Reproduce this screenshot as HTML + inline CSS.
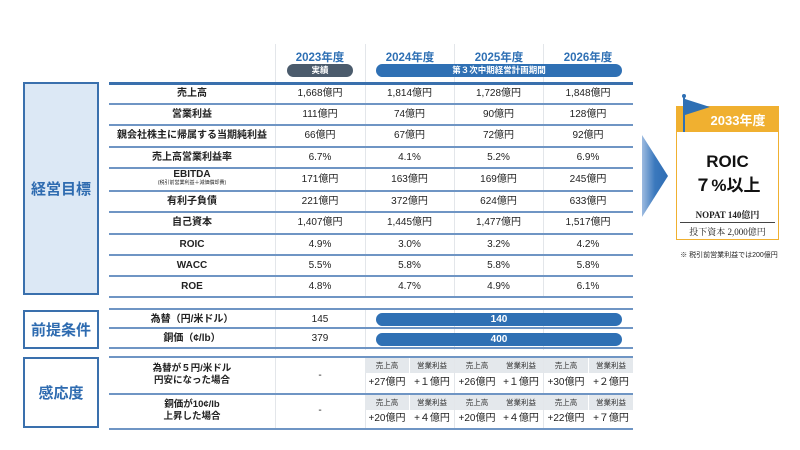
<!DOCTYPE html>
<html><head><meta charset="utf-8"><style>
*{margin:0;padding:0;box-sizing:border-box}
body{width:800px;height:450px;background:#fff;position:relative;overflow:hidden;font-family:"Liberation Sans","Noto Sans CJK JP",sans-serif;color:#222}
.a{position:absolute}
.t{position:absolute;text-align:center;font-size:10px;line-height:12px;white-space:nowrap;transform:translateY(1px)}
.b{font-weight:bold}
.hl{position:absolute;height:2px;background:#6f95c4}
.vl{position:absolute;width:1px;background:#e3e6ea}
.lab{position:absolute;left:23px;width:76px;border:2px solid #3a70ad;color:#2e6bb0;font-weight:bold;font-size:15px;display:flex;align-items:center;justify-content:center}
.yr{position:absolute;top:49px;font-size:11.5px;font-weight:bold;color:#2f70b4;text-align:center;width:90px}
.gh{position:absolute;background:#e4e8ec;height:15px;font-size:7.5px;line-height:15px;text-align:center;color:#333}
</style></head><body>
<div class="lab" style="top:82px;height:213px;background:#dce8f5">経営目標</div>
<div class="lab" style="top:310px;height:39px">前提条件</div>
<div class="lab" style="top:357px;height:71px">感応度</div>
<div class="vl" style="left:275px;top:44px;height:385px"></div>
<div class="vl" style="left:365px;top:44px;height:385px"></div>
<div class="vl" style="left:454px;top:44px;height:385px"></div>
<div class="vl" style="left:543px;top:44px;height:385px"></div>
<div class="yr" style="left:275px">2023年度</div>
<div class="yr" style="left:365px">2024年度</div>
<div class="yr" style="left:454px">2025年度</div>
<div class="yr" style="left:543px">2026年度</div>
<div class="a" style="left:287px;top:64px;width:66px;height:13px;border-radius:7px;background:#4b5b6c;color:#fff;font-size:8.5px;line-height:13px;text-align:center;font-weight:bold">実績</div>
<div class="a" style="left:376px;top:64px;width:246px;height:13px;border-radius:7px;background:#2f70b4;color:#fff;font-size:8.5px;line-height:13px;text-align:center;font-weight:bold">第３次中期経営計画期間</div>
<div class="hl" style="left:109px;width:524px;top:82px;height:3px;background:#3a70ad"></div>
<div class="hl" style="left:109px;width:524px;top:103px"></div>
<div class="hl" style="left:109px;width:524px;top:124px"></div>
<div class="hl" style="left:109px;width:524px;top:146px"></div>
<div class="hl" style="left:109px;width:524px;top:167px"></div>
<div class="hl" style="left:109px;width:524px;top:190px"></div>
<div class="hl" style="left:109px;width:524px;top:211px"></div>
<div class="hl" style="left:109px;width:524px;top:233px"></div>
<div class="hl" style="left:109px;width:524px;top:254px"></div>
<div class="hl" style="left:109px;width:524px;top:275px"></div>
<div class="hl" style="left:109px;width:524px;top:296px"></div>
<div class="t b" style="left:109px;width:166px;top:87px">売上高</div>
<div class="t b" style="left:109px;width:166px;top:108px">営業利益</div>
<div class="t b" style="left:109px;width:166px;top:129px">親会社株主に帰属する当期純利益</div>
<div class="t b" style="left:109px;width:166px;top:151px">売上高営業利益率</div>
<div class="t b" style="left:109px;width:166px;top:168px">EBITDA</div>
<div class="t" style="left:109px;width:166px;top:179px;font-size:5px;line-height:7px">(税引前営業利益＋減価償却費)</div>
<div class="t b" style="left:109px;width:166px;top:195px">有利子負債</div>
<div class="t b" style="left:109px;width:166px;top:216px">自己資本</div>
<div class="t b" style="left:109px;width:166px;top:238px">ROIC</div>
<div class="t b" style="left:109px;width:166px;top:259px">WACC</div>
<div class="t b" style="left:109px;width:166px;top:280px">ROE</div>

<div class="t" style="left:275px;width:90px;top:87px">1,668億円</div>
<div class="t" style="left:275px;width:90px;top:108px">111億円</div>
<div class="t" style="left:275px;width:90px;top:129px">66億円</div>
<div class="t" style="left:275px;width:90px;top:151px">6.7%</div>
<div class="t" style="left:275px;width:90px;top:173px">171億円</div>
<div class="t" style="left:275px;width:90px;top:195px">221億円</div>
<div class="t" style="left:275px;width:90px;top:216px">1,407億円</div>
<div class="t" style="left:275px;width:90px;top:238px">4.9%</div>
<div class="t" style="left:275px;width:90px;top:259px">5.5%</div>
<div class="t" style="left:275px;width:90px;top:280px">4.8%</div>

<div class="t" style="left:365px;width:89px;top:87px">1,814億円</div>
<div class="t" style="left:365px;width:89px;top:108px">74億円</div>
<div class="t" style="left:365px;width:89px;top:129px">67億円</div>
<div class="t" style="left:365px;width:89px;top:151px">4.1%</div>
<div class="t" style="left:365px;width:89px;top:173px">163億円</div>
<div class="t" style="left:365px;width:89px;top:195px">372億円</div>
<div class="t" style="left:365px;width:89px;top:216px">1,445億円</div>
<div class="t" style="left:365px;width:89px;top:238px">3.0%</div>
<div class="t" style="left:365px;width:89px;top:259px">5.8%</div>
<div class="t" style="left:365px;width:89px;top:280px">4.7%</div>

<div class="t" style="left:454px;width:89px;top:87px">1,728億円</div>
<div class="t" style="left:454px;width:89px;top:108px">90億円</div>
<div class="t" style="left:454px;width:89px;top:129px">72億円</div>
<div class="t" style="left:454px;width:89px;top:151px">5.2%</div>
<div class="t" style="left:454px;width:89px;top:173px">169億円</div>
<div class="t" style="left:454px;width:89px;top:195px">624億円</div>
<div class="t" style="left:454px;width:89px;top:216px">1,477億円</div>
<div class="t" style="left:454px;width:89px;top:238px">3.2%</div>
<div class="t" style="left:454px;width:89px;top:259px">5.8%</div>
<div class="t" style="left:454px;width:89px;top:280px">4.9%</div>

<div class="t" style="left:543px;width:90px;top:87px">1,848億円</div>
<div class="t" style="left:543px;width:90px;top:108px">128億円</div>
<div class="t" style="left:543px;width:90px;top:129px">92億円</div>
<div class="t" style="left:543px;width:90px;top:151px">6.9%</div>
<div class="t" style="left:543px;width:90px;top:173px">245億円</div>
<div class="t" style="left:543px;width:90px;top:195px">633億円</div>
<div class="t" style="left:543px;width:90px;top:216px">1,517億円</div>
<div class="t" style="left:543px;width:90px;top:238px">4.2%</div>
<div class="t" style="left:543px;width:90px;top:259px">5.8%</div>
<div class="t" style="left:543px;width:90px;top:280px">6.1%</div>

<div class="a" style="left:109px;top:298px;width:524px;height:11px;background:#fff"></div>
<div class="hl" style="left:109px;width:524px;top:308px"></div>
<div class="hl" style="left:109px;width:524px;top:327px"></div>
<div class="hl" style="left:109px;width:524px;top:347px"></div>
<div class="t b" style="left:109px;width:166px;top:313px">為替（円/米ドル）</div>
<div class="t b" style="left:109px;width:166px;top:332px">銅価（¢/lb）</div>
<div class="t" style="left:275px;width:90px;top:313px">145</div>
<div class="t" style="left:275px;width:90px;top:332px">379</div>
<div class="a" style="left:376px;top:313px;width:246px;height:13px;border-radius:7px;background:#2f70b4;color:#fff;font-size:10px;line-height:13px;text-align:center;font-weight:bold">140</div>
<div class="a" style="left:376px;top:333px;width:246px;height:13px;border-radius:7px;background:#2f70b4;color:#fff;font-size:10px;line-height:13px;text-align:center;font-weight:bold">400</div>

<div class="a" style="left:109px;top:350px;width:524px;height:6px;background:#fff"></div>
<div class="hl" style="left:109px;width:524px;top:356px"></div>
<div class="hl" style="left:109px;width:524px;top:393px"></div>
<div class="hl" style="left:109px;width:524px;top:428px"></div>
<div class="t b" style="left:109px;width:166px;top:362px;font-size:9.5px">為替が５円/米ドル<br>円安になった場合</div>
<div class="t b" style="left:109px;width:166px;top:398px;font-size:9.5px">銅価が10¢/lb<br>上昇した場合</div>
<div class="t" style="left:275px;width:90px;top:369px">-</div>
<div class="t" style="left:275px;width:90px;top:404px">-</div>
<div class="gh" style="left:365px;top:358px;width:44px">売上高</div>
<div class="gh" style="left:410px;top:358px;width:44px">営業利益</div>
<div class="gh" style="left:455px;top:358px;width:44px">売上高</div>
<div class="gh" style="left:499px;top:358px;width:44px">営業利益</div>
<div class="gh" style="left:544px;top:358px;width:44px">売上高</div>
<div class="gh" style="left:589px;top:358px;width:44px">営業利益</div>
<div class="gh" style="left:365px;top:395px;width:44px">売上高</div>
<div class="gh" style="left:410px;top:395px;width:44px">営業利益</div>
<div class="gh" style="left:455px;top:395px;width:44px">売上高</div>
<div class="gh" style="left:499px;top:395px;width:44px">営業利益</div>
<div class="gh" style="left:544px;top:395px;width:44px">売上高</div>
<div class="gh" style="left:589px;top:395px;width:44px">営業利益</div>
<div class="t" style="left:365px;width:44px;top:376px">+27億円</div>
<div class="t" style="left:410px;width:44px;top:376px">+１億円</div>
<div class="t" style="left:455px;width:44px;top:376px">+26億円</div>
<div class="t" style="left:499px;width:44px;top:376px">+１億円</div>
<div class="t" style="left:544px;width:44px;top:376px">+30億円</div>
<div class="t" style="left:589px;width:44px;top:376px">+２億円</div>
<div class="t" style="left:365px;width:44px;top:412px">+20億円</div>
<div class="t" style="left:410px;width:44px;top:412px">+４億円</div>
<div class="t" style="left:455px;width:44px;top:412px">+20億円</div>
<div class="t" style="left:499px;width:44px;top:412px">+４億円</div>
<div class="t" style="left:544px;width:44px;top:412px">+22億円</div>
<div class="t" style="left:589px;width:44px;top:412px">+７億円</div>

<svg class="a" style="left:640px;top:135px" width="30" height="82"><defs><linearGradient id="g" x1="0" x2="1"><stop offset="0" stop-color="#9dbbe0"/><stop offset="0.5" stop-color="#3a78bd"/><stop offset="1" stop-color="#2f6db3"/></linearGradient></defs><polygon points="2,0 28,41 2,82" fill="url(#g)"/></svg>
<div class="a" style="left:676px;top:106px;width:103px;height:134px;border:1.5px solid #f0b030;background:#fff"></div>
<div class="a" style="left:676px;top:106px;width:103px;height:26px;background:#f0b030"></div>
<div class="t b" style="left:697px;width:82px;top:112px;font-size:13px;line-height:16px;color:#fff">2033年度</div>
<div class="a" style="left:683px;top:96px;width:2px;height:36px;background:#2f70b4"></div>
<div class="a" style="left:682px;top:94px;width:4px;height:4px;border-radius:2px;background:#2f70b4"></div>
<svg class="a" style="left:685px;top:99px" width="26" height="18"><polygon points="0,0 25,8 0,16" fill="#2f70b4"/></svg>
<div class="t b" style="left:676px;width:103px;top:151px;font-size:17px;line-height:20px;color:#111">ROIC</div>
<div class="t b" style="left:676px;width:103px;top:175px;font-size:17px;line-height:20px;color:#111">７%以上</div>
<div class="t" style="left:676px;width:103px;top:208px;font-size:9px;font-family:'Liberation Serif','Noto Serif CJK SC',serif;font-weight:bold">NOPAT 140億円</div>
<div class="a" style="left:680px;top:222px;width:95px;height:1px;background:#444"></div>
<div class="t" style="left:676px;width:103px;top:225px;font-size:9px;font-family:'Liberation Serif','Noto Serif CJK SC',serif">投下資本 2,000億円</div>
<div class="t" style="left:664px;width:130px;top:250px;font-size:7px;line-height:9px">※ 税引前営業利益では200億円</div>
</body></html>
